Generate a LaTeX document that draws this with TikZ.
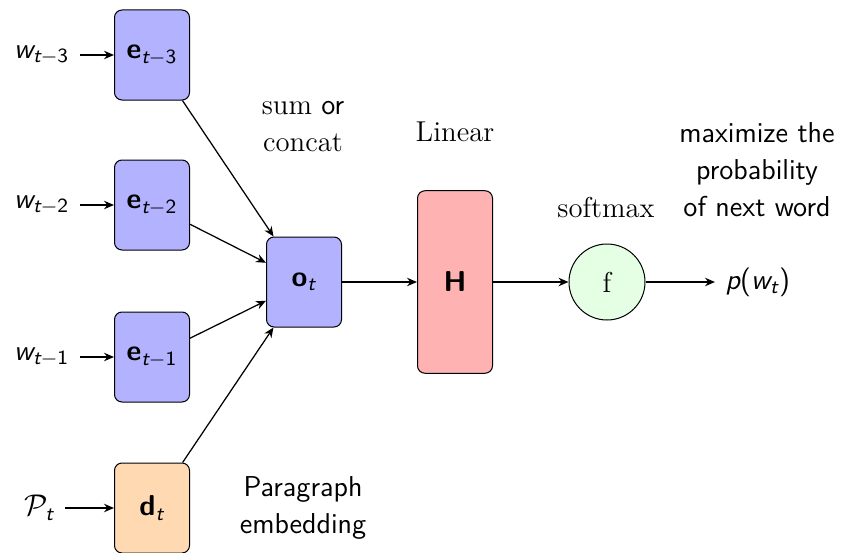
\documentclass[tikz,border=0pt]{standalone}
\usepackage{amsmath}
\usetikzlibrary{arrows.meta}
\newcommand{\sv}[1]{\text{\itshape #1}}
\newcommand{\sn}[1]{\text{\upshape #1}}
\newcommand{\bv}[1]{\textbf{#1}}
\begin{document}
\begin{tikzpicture}[x=0.4pt,y=-0.4pt,>={Stealth[length=4pt,width=3.4pt,inset=1.3pt]},line width=0.5pt,
font=\sffamily\fontsize{11.5}{14.8}\selectfont,
embbox/.style={draw,line width=0.4pt,rounded corners=3pt,minimum width=30pt,minimum height=36pt,inner sep=0pt},
wordlabel/.style={inner sep=4pt},
note/.style={align=center,inner sep=0pt}]
\useasboundingbox (0,0) rectangle (841,553);
\node[embbox,fill=blue!30] (e3) at (152,55) {\bv{e}$_{\sv{t}-\sn{3}}$};
\node[embbox,fill=blue!30] (e2) at (152,205) {\bv{e}$_{\sv{t}-\sn{2}}$};
\node[embbox,fill=blue!30] (e1) at (152,357) {\bv{e}$_{\sv{t}-\sn{1}}$};
\node[embbox,fill=orange!30] (d) at (152,508) {\bv{d}$_{\sv{t}}$};
\node[embbox,fill=blue!30] (o) at (304,282) {\bv{o}$_{\sv{t}}$};
\node[embbox,fill=red!30,minimum height=73pt] (H) at (455,282) {\bv{H}};
\node[draw,line width=0.4pt,circle,fill=green!10,minimum size=30.4pt,inner sep=0pt] (f) at (607,282) {\rmfamily f};
\node[wordlabel,anchor=east] (w3) at (80,55) {\sv{w}$_{\sv{t}-\sn{3}}$};
\node[wordlabel,anchor=east] (w2) at (80,205) {\sv{w}$_{\sv{t}-\sn{2}}$};
\node[wordlabel,anchor=east] (w1) at (80,357) {\sv{w}$_{\sv{t}-\sn{1}}$};
\node[wordlabel,anchor=east] (P) at (65,508) {$\mathcal{P}_{\sv{t}}$};
\node[wordlabel,anchor=west] (p) at (715,282) {\sv{p}(\sv{w}$_{\sv{t}}$)};
\draw[->] (w3) -- (e3);
\draw[->] (w2) -- (e2);
\draw[->] (w1) -- (e1);
\draw[->] (P) -- (d);
\draw[->] (e3) -- (o);
\draw[->] (e2) -- (o);
\draw[->] (e1) -- (o);
\draw[->] (d) -- (o);
\draw[->] (o) -- (H);
\draw[->] (H) -- (f);
\draw[->] (f) -- (p);
\node[note] (sumlbl) at (303,127) {\rmfamily sum \sffamily or\\ \rmfamily concat};
\node[note] (linlbl) at (455,132) {\rmfamily Linear};
\node[note] (smlbl) at (606,208) {\rmfamily softmax};
\node[note] (goal) at (757,170) {maximize the\\ probability\\ of next word};
\node[note] (paralbl) at (303,508) {Paragraph\\ embedding};
\end{tikzpicture}
\end{document}
